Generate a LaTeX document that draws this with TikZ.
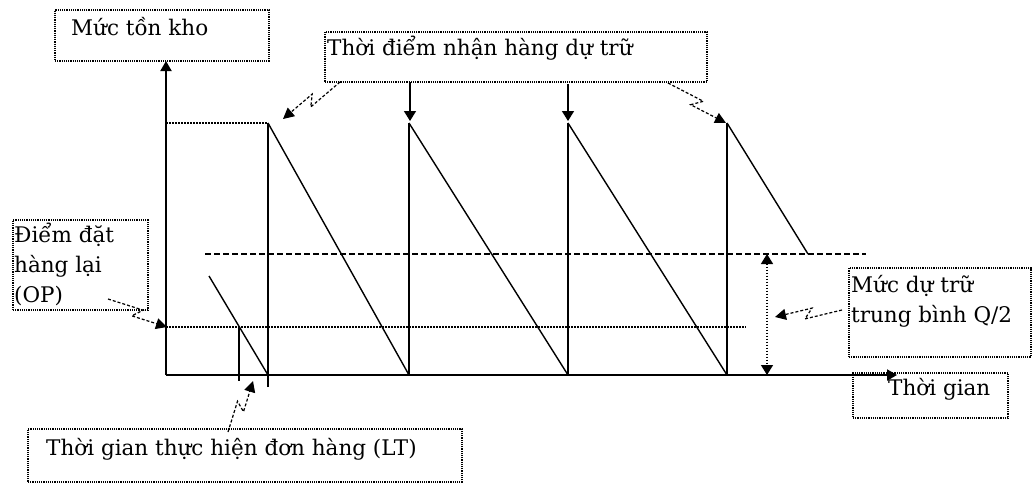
\documentclass[tikz,border=0pt]{standalone}
\usepackage{fontspec}
\setmainfont{DejaVu Serif}
\usetikzlibrary{arrows.meta,calc}
\begin{document}
\begin{tikzpicture}[x=1pt,y=-1pt,
  txt/.style={anchor=base west,inner sep=0pt,font=\fontsize{21.5}{30}\selectfont},
  dotbox/.style={draw,line width=1.2pt,dash pattern=on 1.2pt off 1pt,inner sep=0pt},
  axis/.style={line width=2pt,-{Triangle[length=10pt,width=11pt]}},
  tooth/.style={line width=2pt},
  slope/.style={line width=1.4pt},
  tip/.style={-{Triangle[length=10pt,width=12pt]}},
  bolt/.style={line width=1.2pt,densely dashed,-{Triangle[length=11pt,width=11pt]},
    to path={(\tikztostart) -- ($(\tikztostart)!0.56!(\tikztotarget)!5pt!90:(\tikztotarget)$)
      -- ($(\tikztostart)!0.44!(\tikztotarget)!5pt!-90:(\tikztotarget)$) -- (\tikztotarget)}},
  refline/.style={line width=1.4pt,dash pattern=on 1.5pt off 1.5pt},
  meanline/.style={line width=1.5pt,dash pattern=on 6pt off 3pt}]
\useasboundingbox (0,0) rectangle (1034,485);

% boxes
\node[dotbox,minimum width=214pt,minimum height=51pt] (bstock) at (162,35.5) {};
\node[dotbox,minimum width=382pt,minimum height=50pt] (brecv) at (516,57) {};
\node[dotbox,minimum width=135pt,minimum height=90pt] (bop) at (80.5,265) {};
\node[dotbox,minimum width=182pt,minimum height=89pt] (bavg) at (940,312.5) {};
\node[dotbox,minimum width=155pt,minimum height=45pt] (btime) at (930.5,395.5) {};
\node[dotbox,minimum width=434pt,minimum height=53pt] (blt) at (245,455.5) {};

% texts
\node[txt] (tstock) at (71,35) {Mức tồn kho};
\node[txt] (trecv) at (327,55) {Thời điểm nhận hàng dự trữ};
\node[txt] (top1) at (14,242) {Điểm đặt};
\node[txt] (top2) at (14,272) {hàng lại};
\node[txt] (top3) at (14,302) {(OP)};
\node[txt] (tavg1) at (851,292) {Mức dự trữ};
\node[txt] (tavg2) at (851,322) {trung bình Q/2};
\node[txt] (ttime) at (888,395) {Thời gian};
\node[txt] (tlt) at (46,455) {Thời gian thực hiện đơn hàng (LT)};

% coordinates
\coordinate (O) at (166,375);
\coordinate (ytop) at (166,61);
\coordinate (xend) at (897,375);
\coordinate (qtop) at (166,123);
\coordinate (p1) at (268,123); \coordinate (b1) at (268,375); \coordinate (b1l) at (268,387);
\coordinate (p2) at (409,123); \coordinate (b2) at (409,375);
\coordinate (p3) at (568,123); \coordinate (b3) at (568,375);
\coordinate (p4) at (727,123); \coordinate (b4) at (727,375);
\coordinate (e4) at (808,254);
\coordinate (s0) at (209,276);
\coordinate (lttop) at (239,327); \coordinate (ltbot) at (239,381);
\coordinate (m1) at (205,254); \coordinate (m2) at (866,254);
\coordinate (op1) at (166,327); \coordinate (op2) at (746,327);
\coordinate (qa) at (767,254); \coordinate (qb) at (767,375);

% axes
\draw[axis] (O) -- (ytop);
\draw[axis] (O) -- (xend);

% reference lines
\draw[refline] (qtop) -- (p1);
\draw[refline] (op1) -- (op2);
\draw[meanline] (m1) -- (m2);

% sawtooth
\draw[tooth] (b1l) -- (p1);
\draw[tooth] (b2) -- (p2);
\draw[tooth] (b3) -- (p3);
\draw[tooth] (b4) -- (p4);
\draw[slope] (s0) -- (b1);
\draw[slope] (p1) -- (b2);
\draw[slope] (p2) -- (b3);
\draw[slope] (p3) -- (b4);
\draw[slope] (p4) -- (e4);
\draw[tooth] (lttop) -- (ltbot);

% Q/2 arrow
\draw[line width=1.4pt,dash pattern=on 1.5pt off 1.5pt,{Triangle[length=10pt,width=12pt]}-{Triangle[length=10pt,width=12pt]}] (qa) -- (qb);

% callouts
\coordinate (r1s) at (340,82); \coordinate (r1e) at (283,119);
\coordinate (r2s) at (410,82); \coordinate (r2e) at (410,121);
\coordinate (r3s) at (568,84); \coordinate (r3e) at (568,121);
\coordinate (r4s) at (668,83); \coordinate (r4e) at (726,123);
\coordinate (ops) at (108,299); \coordinate (ope) at (167,327);
\coordinate (avs) at (842,310); \coordinate (ave) at (775,317);
\coordinate (lts) at (228,432); \coordinate (lte) at (253,381);

\draw[bolt] (r1s) to (r1e);
\draw[line width=1.5pt,tip] (r2s) -- (r2e);
\draw[line width=1.5pt,tip] (r3s) -- (r3e);
\draw[bolt] (r4s) to (r4e);
\draw[bolt] (ops) to (ope);
\draw[bolt] (avs) to (ave);
\draw[bolt] (lts) to (lte);
\end{tikzpicture}
\end{document}
